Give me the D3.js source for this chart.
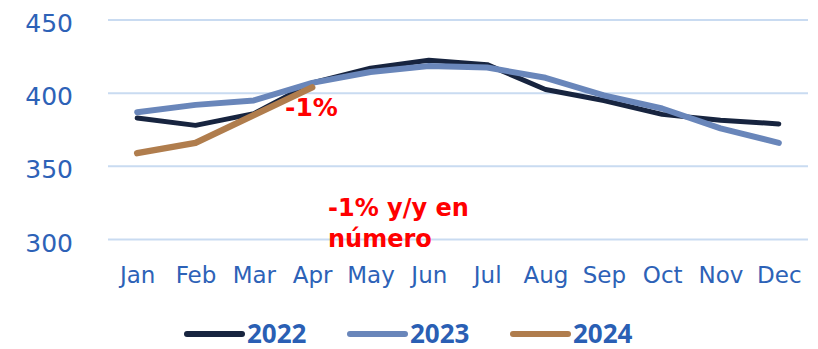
<!DOCTYPE html>
<html>
<head>
<meta charset="utf-8">
<script src="https://cdn.jsdelivr.net/npm/d3@7"></script>
<style>
  html, body { margin: 0; padding: 0; background: #ffffff; }
  svg { display: block; }
</style>
</head>
<body>
<svg id="chart" width="818" height="349"></svg>
<script>
// Monthly values by year
const months = ["Jan", "Feb", "Mar", "Apr", "May", "Jun", "Jul", "Aug", "Sep", "Oct", "Nov", "Dec"];
const values2022 = [383, 378, 386, 407, 417, 422.5, 419.5, 402.5, 395, 385.5, 381.5, 379];
const values2023 = [387, 392, 395, 407, 414.5, 418.5, 417.5, 410.5, 398.5, 389.5, 376, 366];
const values2024 = [359, 366, 385, 404];
const yTicks = [300, 350, 400, 450];
const seriesNames = ["2022", "2023", "2024"];
const seriesColors = ["#17243f", "#6986ba", "#b07d4d"];
const seriesWidths = [5, 6, 6.5];

const svg = d3.select("#chart");

const x = d3.scalePoint().domain(months).range([108, 808]).padding(0.5);
const y = d3.scaleLinear().domain([300, 450]).range([239.5, 20]);

// Horizontal gridlines
svg.append("g")
  .selectAll("line")
  .data(yTicks)
  .join("line")
  .attr("x1", 108).attr("x2", 808)
  .attr("y1", d => y(d)).attr("y2", d => y(d))
  .attr("stroke", "#c9dbf1")
  .attr("stroke-width", 2);

// Y axis labels
const yAxis = svg.append("g")
  .attr("transform", "translate(73,0)")
  .call(d3.axisLeft(y).tickValues(yTicks).tickSize(0).tickPadding(0).tickFormat(d3.format("d")));
yAxis.select(".domain").remove();
yAxis.selectAll("text")
  .attr("dy", "0.38em")
  .attr("y", 2)
  .attr("fill", "#2d62b7")
  .style("font-family", "'DejaVu Sans', sans-serif")
  .style("font-size", "25px");

// X axis labels
const xAxis = svg.append("g")
  .attr("transform", "translate(0,283)")
  .call(d3.axisBottom(x).tickSize(0).tickPadding(0));
xAxis.select(".domain").remove();
xAxis.selectAll("text")
  .attr("y", 0)
  .attr("dy", null)
  .attr("fill", "#2d62b7")
  .style("font-family", "'DejaVu Sans', sans-serif")
  .style("font-size", "23px");

// Lines
const line = d3.line()
  .x((d, i) => x(months[i]))
  .y(d => y(d));

const allSeries = [values2022, values2023, values2024];
allSeries.forEach((vals, i) => {
  svg.append("path")
    .datum(vals)
    .attr("d", line)
    .attr("fill", "none")
    .attr("stroke", seriesColors[i])
    .attr("stroke-width", seriesWidths[i])
    .attr("stroke-linecap", "round")
    .attr("stroke-linejoin", "round");
});

// Annotations
svg.append("text")
  .attr("x", 285).attr("y", 116)
  .attr("fill", "#ff0000")
  .style("font-family", "'DejaVu Sans', sans-serif")
  .style("font-weight", "bold")
  .style("font-size", "25px")
  .text("-1%");

const note = svg.append("text")
  .attr("fill", "#ff0000")
  .style("font-family", "'DejaVu Sans', sans-serif")
  .style("font-weight", "bold")
  .style("font-size", "24px");
note.append("tspan").attr("x", 328).attr("y", 216).text("-1% y/y en");
note.append("tspan").attr("x", 328).attr("y", 247).text("número");

// Legend
const legendX = [187, 350, 513];
const legend = svg.append("g");
seriesNames.forEach((name, i) => {
  const g = legend.append("g").attr("transform", `translate(${legendX[i]},334)`);
  g.append("line")
    .attr("x1", 0).attr("x2", 55)
    .attr("y1", 0).attr("y2", 0)
    .attr("stroke", seriesColors[i])
    .attr("stroke-width", 6)
    .attr("stroke-linecap", "round");
  g.append("text")
    .attr("x", 60).attr("y", 8.5)
    .attr("fill", "#2a5fb4")
    .style("font-family", "'Noto Sans', sans-serif")
    .style("font-weight", "bold")
    .style("font-size", "26px")
    .text(name);
});
</script>
</body>
</html>
